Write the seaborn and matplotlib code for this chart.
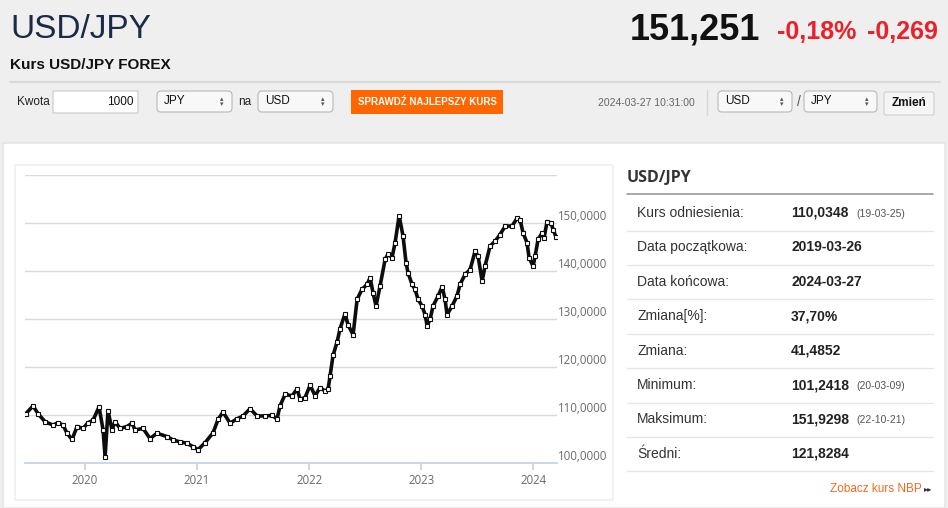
import matplotlib
matplotlib.use("Agg")
import matplotlib.pyplot as plt
import seaborn as sns
from matplotlib import font_manager
from matplotlib.patches import FancyBboxPatch
from matplotlib.lines import Line2D
from matplotlib.transforms import Affine2D

# USD/JPY rate (decimal year, rate)
year_pos = [2019.473, 2019.536, 2019.580, 2019.643, 2019.714, 2019.759, 2019.804, 2019.839,
            2019.884, 2019.929, 2019.982, 2020.027, 2020.071, 2020.125, 2020.161, 2020.179,
            2020.205, 2020.241, 2020.268, 2020.313, 2020.375, 2020.420, 2020.446, 2020.518,
            2020.580, 2020.643, 2020.732, 2020.786, 2020.848, 2020.911, 2020.964, 2021.009,
            2021.071, 2021.143, 2021.188, 2021.232, 2021.295, 2021.357, 2021.411, 2021.473,
            2021.536, 2021.607, 2021.670, 2021.714, 2021.741, 2021.786, 2021.848, 2021.893,
            2021.920, 2021.964, 2022.009, 2022.054, 2022.098, 2022.143, 2022.170, 2022.188,
            2022.214, 2022.250, 2022.277, 2022.321, 2022.348, 2022.393, 2022.429, 2022.473,
            2022.518, 2022.545, 2022.571, 2022.598, 2022.634, 2022.679, 2022.705, 2022.741,
            2022.768, 2022.804, 2022.839, 2022.866, 2022.884, 2022.920, 2022.946, 2022.973,
            2023.009, 2023.036, 2023.054, 2023.080, 2023.107, 2023.152, 2023.188, 2023.214,
            2023.232, 2023.277, 2023.321, 2023.348, 2023.393, 2023.438, 2023.482, 2023.509,
            2023.545, 2023.571, 2023.616, 2023.661, 2023.705, 2023.750, 2023.813, 2023.857,
            2023.884, 2023.911, 2023.946, 2023.964, 2024.000, 2024.018, 2024.045, 2024.080,
            2024.098, 2024.125, 2024.161, 2024.179, 2024.205]
usd_jpy = [110.3, 111.9, 110.3, 108.6, 107.9, 108.4, 107.9, 106.2,
           104.9, 107.6, 107.2, 108.4, 108.9, 111.7, 106.9, 101.3,
           110.9, 106.9, 108.6, 107.2, 107.6, 108.3, 106.9, 107.2,
           105.1, 106.2, 105.5, 104.8, 104.4, 104.1, 103.4, 102.8,
           104.2, 106.3, 109.1, 110.6, 108.3, 109.2, 109.8, 111.3,
           109.8, 109.8, 109.9, 109.2, 111.9, 114.3, 114.0, 115.4,
           113.3, 113.6, 116.2, 114.0, 115.7, 115.0, 115.4, 118.2,
           122.4, 125.2, 128.0, 131.1, 128.8, 126.7, 134.1, 136.2,
           137.2, 138.6, 135.5, 132.7, 136.9, 142.4, 143.5, 142.8,
           145.9, 151.5, 147.3, 141.7, 139.6, 137.2, 136.2, 134.1,
           132.7, 130.9, 128.6, 129.9, 132.7, 134.8, 136.7, 134.1,
           130.9, 132.7, 134.8, 137.2, 139.3, 140.3, 144.1, 143.1,
           137.9, 141.0, 145.2, 146.2, 147.6, 149.3, 149.4, 151.0,
           150.7, 147.9, 145.9, 142.8, 141.0, 143.1, 146.6, 147.9,
           146.9, 150.3, 150.0, 148.6, 147.1]

y_ticks = [100, 110, 120, 130, 140, 150, 160]
y_tick_labels = ["100,0000", "110,0000", "120,0000", "130,0000", "140,0000", "150,0000", ""]
x_ticks = [2020, 2021, 2022, 2023, 2024]
x_tick_labels = ["2020", "2021", "2022", "2023", "2024"]

pair = "USD/JPY"
last_rate = "151,251"
change_pct = "-0,18%"
change_abs = "-0,269"
quote_time = "2024-03-27 10:31:00"
amount = "1000"

stat_labels = ["Kurs odniesienia:", "Data początkowa:", "Data końcowa:", "Zmiana[%]:",
               "Zmiana:", "Minimum:", "Maksimum:", "Średni:"]
stat_values = ["110,0348", "2019-03-26", "2024-03-27", "37,70%",
               "41,4852", "101,2418", "151,9298", "121,8284"]
stat_dates = ["(19-03-25)", "", "", "", "", "(20-03-09)", "(22-10-21)", ""]

sns.set_theme(style="white")
avail = {f.name for f in font_manager.fontManager.ttflist}
narrow = "Liberation Sans Narrow" if "Liberation Sans Narrow" in avail else None
plt.rcParams["font.family"] = ["Liberation Sans", "DejaVu Sans"]

W, H = 948, 508
fig = plt.figure(figsize=(W / 100, H / 100), dpi=100, facecolor="#efefef")
px = Affine2D().scale(1, -1).translate(0, H)   # page pixels, origin top-left


def box(x0, y0, x1, y1, fc, ec="none", lw=1.0, r=0.0):
    p = FancyBboxPatch((x0, y0), x1 - x0, y1 - y0, boxstyle=f"round,pad=0,rounding_size={r}",
                       fc=fc, ec=ec, lw=lw, transform=px, zorder=-2)
    fig.add_artist(p)


def hline(x0, x1, y, color, lw=1.0):
    fig.add_artist(Line2D([x0, x1], [y, y], color=color, lw=lw, transform=px, zorder=-1))


def txt(x, y, s, **kw):
    kw.setdefault("va", "center")
    fig.text(x / W, 1 - y / H, s, **kw)


# header
cond = narrow or "Liberation Sans"
txt(10, 29, pair, fontsize=30 if narrow else 24, color="#1b2a47", family=[cond, "DejaVu Sans"])
txt(760, 30, last_rate, fontsize=26, fontweight="bold", color="#111111", ha="right")
txt(777, 32, change_pct, fontsize=18, fontweight="bold", color="#e8212b")
txt(867, 32, change_abs, fontsize=18, fontweight="bold", color="#e8212b")
txt(10, 65, "Kurs USD/JPY FOREX", fontsize=11, fontweight="bold", color="#111111")
hline(10, 940, 82, "#d9d9d9", 1.5)

# form row
txt(17, 102, "Kwota", fontsize=8.5, color="#222222")
box(53, 91, 138, 113, "white", "#c8c8c8", 0.8)
txt(134, 102, amount, fontsize=8.5, color="#111111", ha="right")
for x0, x1, lab in [(157, 232, "JPY"), (258, 333, "USD"), (718, 792, "USD"), (804, 877, "JPY")]:
    box(x0, 91, x1, 112, "#f8f8f8", "#b8b8b8", 0.8, 4)
    txt(x0 + 7, 101.5, lab, fontsize=8.5, color="#111111")
    txt(x1 - 10, 99, "▴", fontsize=5, color="#555555", ha="center", family="DejaVu Sans")
    txt(x1 - 10, 104, "▾", fontsize=5, color="#555555", ha="center", family="DejaVu Sans")
txt(238, 102, "na", fontsize=8.5, color="#222222")
txt(797, 102, "/", fontsize=10, color="#555555")
box(351, 90, 503, 114, "#ff6600")
txt(427, 102, "SPRAWDŹ NAJLEPSZY KURS", fontsize=7, fontweight="bold", color="white", ha="center")
txt(598, 103, quote_time, fontsize=7.5, color="#666666")
fig.add_artist(Line2D([707, 707], [90, 115], color="#d6d6d6", lw=1, transform=px))
box(884, 92, 934, 115, "#f5f5f5", "#d0d0d0", 0.8, 2)
txt(909, 103, "Zmień", fontsize=8.5, fontweight="bold", color="#111111", ha="center")

# white panel and chart frame
box(3, 143, 945, 508, "white", "#e3e3e3", 1)
box(15, 165, 613, 500, "white", "#ececec", 1)

# chart
ax = fig.add_axes([25 / W, 1 - 463 / H, (556.6 - 25) / W, (463 - 175) / H])
ax.set_zorder(3)
ax.set_facecolor("none")
sns.lineplot(x=year_pos, y=usd_jpy, ax=ax, color="#0d0d0d", linewidth=2.6,
             marker="s", markersize=3.2, markerfacecolor="white",
             markeredgecolor="#0d0d0d", markeredgewidth=0.8)
ax.set_xlim(2019.464, 2024.21)
ax.set_ylim(100, 160)
ax.set_yticks(y_ticks)
ax.set_yticklabels(y_tick_labels)
ax.set_xticks(x_ticks)
ax.set_xticklabels(x_tick_labels)
ax.yaxis.tick_right()
ax.grid(axis="y", color="#d9d9d9", lw=1)
ax.set_axisbelow(True)
for s in ["top", "left", "right"]:
    ax.spines[s].set_visible(False)
ax.spines["bottom"].set_color("#c5d3e3")
ax.tick_params(axis="y", length=0, pad=1, labelsize=8.3, labelcolor="#6a6a6a")
ax.tick_params(axis="x", bottom=True, length=5, color="#c5d3e3", pad=3, labelsize=8.3,
               labelcolor="#6a6a6a")
for lab in ax.get_yticklabels():
    lab.set_va("bottom")
    lab.set_family(["Open Sans", "DejaVu Sans"])
for lab in ax.get_xticklabels():
    lab.set_family(["Open Sans", "DejaVu Sans"])
ax.set_xlabel("")
ax.set_ylabel("")

# statistics table
txt(627, 178, pair, fontsize=11.5, fontweight="bold", color="#333333",
    family=["Open Sans", "DejaVu Sans"])
hline(627, 933, 194, "#9a9a9a", 1.2)
for i, (lab, val, dt) in enumerate(zip(stat_labels, stat_values, stat_dates)):
    yc = 213 + i * 34.4
    txt(637, yc, lab, fontsize=10, color="#333333")
    txt(791, yc, val, fontsize=10, fontweight="bold", color="#222222")
    if dt:
        txt(856, yc + 1, dt, fontsize=7.5, color="#555555")
    hline(627, 933, yc + 17.5, "#e6e6e6", 1)
txt(922, 489, "Zobacz kurs NBP", fontsize=8.5, color="#f26a1b", ha="right")
txt(932, 489, "▸▸", fontsize=6, color="#333333", ha="right", family="DejaVu Sans")

fig.savefig("out.png", dpi=100, facecolor=fig.get_facecolor())
